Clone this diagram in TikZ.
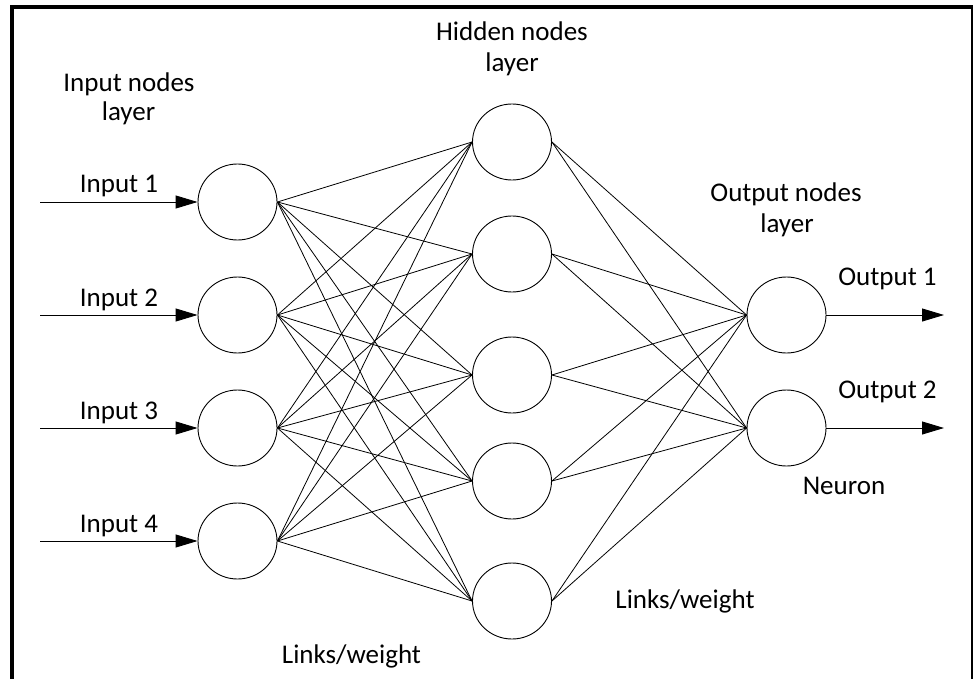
\documentclass[tikz,border=0pt]{standalone}
\usepackage{fontspec}
\setmainfont{Carlito}
\usetikzlibrary{arrows.meta,shapes.geometric}
\begin{document}
\begin{tikzpicture}[x=1pt,y=-1pt,
  neuron/.style={draw, ellipse, line width=0.9pt, minimum width=79pt, minimum height=76pt, inner sep=0pt},
  link/.style={line width=0.8pt},
  feed/.style={line width=0.9pt, -{Triangle[length=22pt,width=13pt]}},
  lbl/.style={font=\fontsize{27}{32}\selectfont, anchor=base, inner sep=0pt}
]
\useasboundingbox (0,0) rectangle (974,679);
% frame
\fill (10,5) rectangle (973,9);
\fill (10,5) rectangle (14,679);
\fill (971,5) rectangle (973,679);

% neurons
\foreach \i/\y in {1/202,2/315,3/428,4/541}
  \node[neuron] (in\i) at (237.5,\y) {};
\foreach \i/\y in {1/142,2/254,3/375,4/481,5/601}
  \node[neuron] (hid\i) at (512,\y) {};
\foreach \i/\y in {1/315,2/428}
  \node[neuron] (out\i) at (786.5,\y) {};

% links
\foreach \i in {1,...,4}
  \foreach \j in {1,...,5}
    \draw[link] (in\i.east) -- (hid\j.west);
\foreach \j in {1,...,5}
  \foreach \k in {1,2}
    \draw[link] (hid\j.east) -- (out\k.west);

% inputs and outputs
\foreach \i/\y in {1/202,2/315,3/428,4/541}{
  \coordinate (src\i) at (40,\y);
  \draw[feed] (src\i) -- (in\i.west);
  \node[lbl] (inlab\i) at (119,\y-9) {Input \i};
}
\foreach \k/\y in {1/315,2/428}{
  \coordinate (dst\k) at (944,\y);
  \draw[feed] (out\k.east) -- (dst\k);
  \node[lbl] (outlab\k) at (887.5,\y-29.5) {Output \k};
}

% layer captions
\node[lbl] (capinA) at (129,92) {Input nodes};
\node[lbl] (capinB) at (128.5,120.5) {layer};
\node[lbl] (caphidA) at (512,41) {Hidden nodes};
\node[lbl] (caphidB) at (512,72) {layer};
\node[lbl] (capoutA) at (786,202) {Output nodes};
\node[lbl] (capoutB) at (787,233) {layer};
\node[lbl] (neuronlab) at (844,494) {Neuron};
\node[lbl] (linksA) at (351.5,663) {Links/weight};
\node[lbl] (linksB) at (685,608) {Links/weight};
\end{tikzpicture}
\end{document}
